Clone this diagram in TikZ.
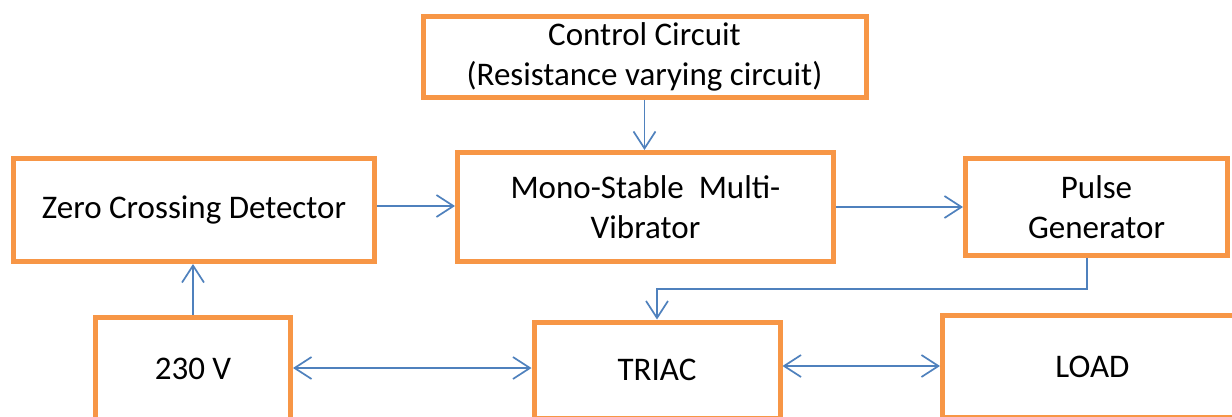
\documentclass[tikz,border=0pt]{standalone}
\usepackage{fontspec}
\setmainfont{Carlito}
\usetikzlibrary{arrows.meta}
\definecolor{boxorange}{HTML}{F79646}
\definecolor{arrowblue}{HTML}{4F81BD}
\begin{document}
\begin{tikzpicture}[x=1pt,y=-1pt,
  blk/.style={draw=boxorange,line width=5pt,rectangle,align=center,inner sep=0pt,
    font=\fontsize{33}{40}\selectfont,text=black},
  conn/.style={draw=arrowblue,line width=1.7pt,-{Straight Barb[length=17pt,width=22pt,line width=1.7pt]}},
  biconn/.style={draw=arrowblue,line width=1.7pt,{Straight Barb[length=17pt,width=22pt,line width=1.7pt]}-{Straight Barb[length=17pt,width=22pt,line width=1.7pt]}}]
\clip (0,0) rectangle (1232,416);
\fill[white] (0,0) rectangle (1232,416);
\node[blk,minimum width=443pt,minimum height=81pt] (ctrl) at (644.5,56.5) {Control Circuit\\(Resistance varying circuit)};
\node[blk,minimum width=361pt,minimum height=103pt] (zcd) at (194,210) {Zero Crossing Detector};
\node[blk,minimum width=376pt,minimum height=109pt] (mono) at (645.5,207) {Mono-Stable\ \ Multi-\\Vibrator};
\node[blk,minimum width=262pt,minimum height=97pt] (pulse) at (1096.5,207) {Pulse\\Generator};
\node[blk,minimum width=195pt,minimum height=102pt] (v230) at (193,368.5) {230 V};
\node[blk,minimum width=246pt,minimum height=96pt] (triac) at (657,370) {TRIAC};
\node[blk,minimum width=300pt,minimum height=102pt] (load) at (1092.5,366.5) {LOAD};
\coordinate (pa) at ([xshift=-9.5pt]pulse.south);
\coordinate (pb) at (1087,289);
\coordinate (pc) at (657,289);
\draw[conn] (ctrl.south) -- (ctrl.south |- mono.north);
\draw[conn] (zcd.east |- 0,206) -- (mono.west |- 0,206);
\draw[conn] (mono.east) -- (pulse.west);
\draw[conn] (v230.north) -- (v230.north |- zcd.south);
\draw[conn] (pa) -- (pb) -- (pc) -- (pc |- triac.north);
\draw[biconn] (v230.east |- 0,368) -- (triac.west |- 0,368);
\draw[biconn] (triac.east |- 0,366) -- (load.west |- 0,366);
\end{tikzpicture}
\end{document}
